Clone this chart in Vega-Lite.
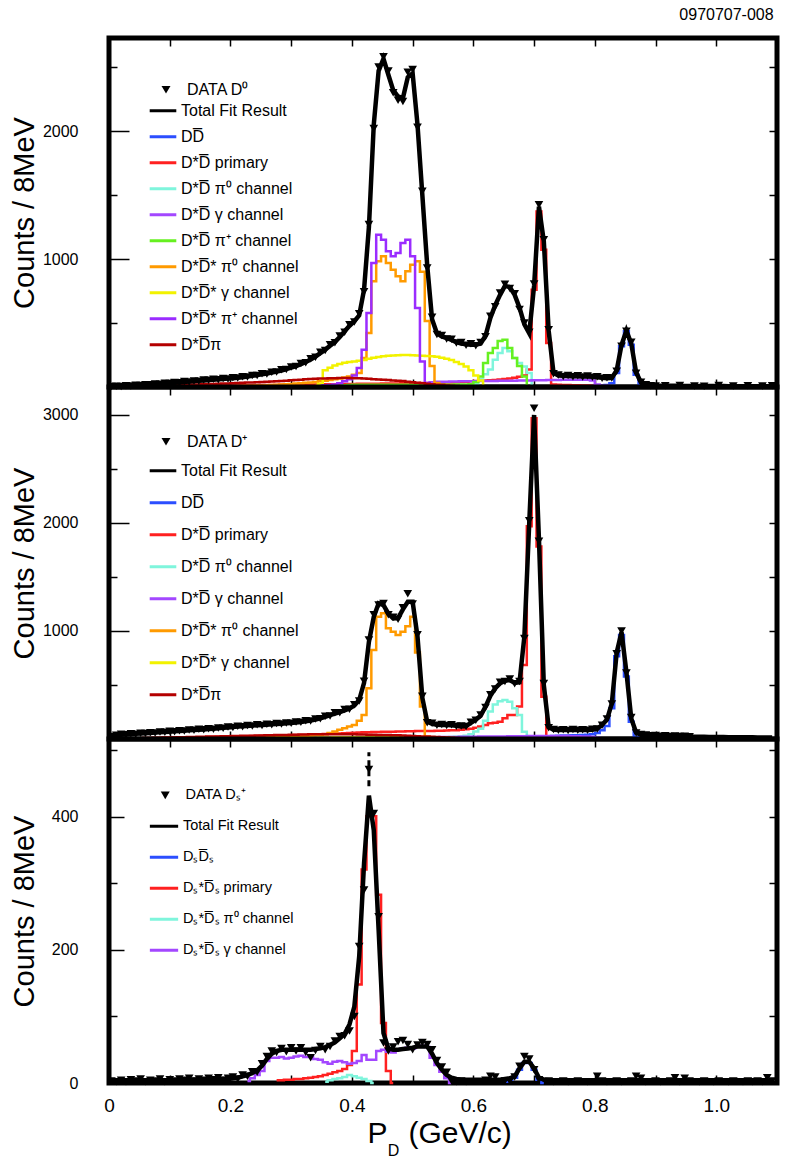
{
  "$schema": "https://vega.github.io/schema/vega-lite/v6.json",
  "padding": {"left": 7, "top": 6, "right": 12, "bottom": 0},
  "title": {"text": "0970707-008", "anchor": "end", "fontSize": 16, "fontWeight": "normal", "font": "Liberation Sans", "color": "black", "offset": 12, "dx": -10},
  "spacing": 0,
  "bounds": "flush",
  "datasets": {
    "d1": [
      {"p":0.004,"fit":2,"dat":3,"pi":1},
      {"p":0.012,"fit":4,"dat":5,"pi":2},
      {"p":0.02,"fit":6,"dat":4,"pi":3},
      {"p":0.028,"fit":8,"dat":9,"pi":4},
      {"p":0.036,"fit":10,"dat":8,"pi":5,"pr":1},
      {"p":0.044,"fit":12,"dat":13,"pi":6,"pr":2},
      {"p":0.052,"fit":14,"dat":12,"pi":7,"pr":2},
      {"p":0.06,"fit":16,"dat":18,"pi":8,"pr":3},
      {"p":0.068,"fit":19,"dat":17,"pi":9,"pr":3},
      {"p":0.076,"fit":21,"dat":23,"pi":10,"pr":4},
      {"p":0.084,"fit":24,"dat":22,"pi":11,"pr":4},
      {"p":0.092,"fit":27,"dat":29,"pi":13,"pr":5},
      {"p":0.1,"fit":30,"dat":28,"pi":14,"pr":5},
      {"p":0.108,"fit":33,"dat":35,"pi":15,"pr":6},
      {"p":0.116,"fit":36,"dat":34,"pi":16,"pr":6},
      {"p":0.124,"fit":39,"dat":42,"pi":17,"pr":7},
      {"p":0.132,"fit":42,"dat":40,"pi":18,"pr":7},
      {"p":0.14,"fit":45,"dat":47,"pi":19,"pr":8},
      {"p":0.148,"fit":48,"dat":45,"pi":20,"pr":8},
      {"p":0.156,"fit":51,"dat":54,"pi":21,"pr":9},
      {"p":0.164,"fit":54,"dat":52,"pi":23,"pr":9,"s0":1},
      {"p":0.172,"fit":57,"dat":60,"pi":24,"pr":10,"s0":2},
      {"p":0.18,"fit":60,"dat":57,"pi":25,"pr":10,"s0":3},
      {"p":0.188,"fit":63,"dat":66,"pi":27,"pr":11,"s0":4},
      {"p":0.196,"fit":66,"dat":63,"pi":28,"pr":11,"s0":5},
      {"p":0.204,"fit":69,"dat":72,"pi":30,"pr":12,"s0":6},
      {"p":0.212,"fit":72,"dat":70,"pi":32,"pr":12,"s0":7},
      {"p":0.22,"fit":77,"dat":80,"pi":33,"pr":13,"s0":8},
      {"p":0.228,"fit":82,"dat":79,"pi":35,"pr":13,"s0":9},
      {"p":0.236,"fit":87,"dat":90,"pi":36,"pr":14,"s0":10},
      {"p":0.244,"fit":93,"dat":89,"pi":38,"pr":14,"s0":11},
      {"p":0.252,"fit":99,"dat":104,"pi":40,"pr":15,"s0":12},
      {"p":0.26,"fit":105,"dat":101,"pi":41,"pr":15,"s0":14},
      {"p":0.268,"fit":112,"dat":116,"pi":43,"pr":16,"s0":16},
      {"p":0.276,"fit":120,"dat":117,"pi":45,"pr":16,"s0":18},
      {"p":0.284,"fit":129,"dat":134,"pi":46,"pr":17,"s0":20},
      {"p":0.292,"fit":140,"dat":137,"pi":49,"pr":17,"s0":22},
      {"p":0.3,"fit":152,"dat":156,"pi":52,"pr":18,"s0":24},
      {"p":0.308,"fit":164,"dat":160,"pi":55,"pr":18,"s0":27},
      {"p":0.316,"fit":178,"dat":184,"pi":57,"pr":19,"s0":30},
      {"p":0.324,"fit":195,"dat":190,"pi":60,"pr":19,"s0":33},
      {"p":0.332,"fit":215,"dat":221,"pi":62,"pr":20,"s0":36},
      {"p":0.34,"fit":238,"dat":232,"pi":65,"pr":20,"s0":40,"sg":10},
      {"p":0.348,"fit":265,"dat":272,"pi":66,"pr":21,"s0":44,"sg":25,"sp":10},
      {"p":0.356,"fit":292,"dat":286,"pi":67,"pr":21,"s0":48,"sg":130,"sp":14},
      {"p":0.364,"fit":322,"dat":330,"pi":68,"pr":22,"s0":54,"sg":150,"sp":16},
      {"p":0.372,"fit":352,"dat":345,"pi":69,"pr":22,"s0":60,"sg":168,"sp":20},
      {"p":0.38,"fit":390,"dat":398,"pi":70,"pr":23,"s0":66,"sg":180,"sp":30,"pp":10},
      {"p":0.388,"fit":435,"dat":428,"pi":70,"pr":23,"s0":75,"sg":190,"sp":45,"pp":14},
      {"p":0.396,"fit":478,"dat":486,"pi":70,"pr":24,"s0":83,"sg":195,"sp":60,"pp":16},
      {"p":0.404,"fit":515,"dat":508,"pi":69,"pr":24,"s0":95,"sg":200,"sp":90,"pp":17},
      {"p":0.412,"fit":560,"dat":572,"pi":68,"pr":25,"s0":109,"sg":205,"sp":148,"pp":18},
      {"p":0.42,"fit":760,"dat":745,"pi":66,"pr":25,"s0":227,"sg":210,"sp":291,"pp":18},
      {"p":0.428,"fit":1250,"dat":1270,"pi":64,"pr":25,"s0":422,"sg":220,"sp":578,"pp":18},
      {"p":0.436,"fit":2050,"dat":2020,"pi":61,"pr":26,"s0":826,"sg":228,"sp":969,"pp":18},
      {"p":0.444,"fit":2470,"dat":2500,"pi":58,"pr":26,"s0":982,"sg":235,"sp":1190,"pp":18},
      {"p":0.452,"fit":2565,"dat":2580,"pi":56,"pr":27,"s0":1021,"sg":240,"sp":1151,"pp":18},
      {"p":0.46,"fit":2440,"dat":2470,"pi":54,"pr":27,"s0":969,"sg":244,"sp":1060,"pp":18},
      {"p":0.468,"fit":2320,"dat":2300,"pi":51,"pr":28,"s0":917,"sg":246,"sp":1021,"pp":18},
      {"p":0.476,"fit":2270,"dat":2240,"pi":48,"pr":28,"s0":865,"sg":248,"sp":1047,"pp":18},
      {"p":0.484,"fit":2258,"dat":2230,"pi":46,"pr":29,"s0":826,"sg":250,"sp":1125,"pp":18},
      {"p":0.492,"fit":2420,"dat":2460,"pi":42,"pr":29,"s0":904,"sg":250,"sp":1151,"pp":18},
      {"p":0.5,"fit":2450,"dat":2480,"pi":38,"pr":30,"s0":956,"sg":248,"sp":1021,"pp":18},
      {"p":0.508,"fit":2050,"dat":2030,"pi":34,"pr":30,"s0":982,"sg":246,"sp":617,"pp":18},
      {"p":0.516,"fit":1500,"dat":1530,"pi":30,"pr":31,"s0":900,"sg":245,"sp":200,"pp":18},
      {"p":0.524,"fit":950,"dat":930,"pi":26,"pr":31,"s0":516,"sg":242,"sp":31,"pp":18,"g":30},
      {"p":0.532,"fit":530,"dat":545,"pi":22,"pr":32,"s0":164,"sg":240,"sp":8,"pp":18,"g":38},
      {"p":0.54,"fit":420,"dat":410,"pi":18,"pr":33,"s0":31,"sg":236,"sp":0,"pp":18,"g":42},
      {"p":0.548,"fit":395,"dat":402,"pi":15,"pr":34,"s0":0,"sg":228,"pp":18,"g":42},
      {"p":0.556,"fit":383,"dat":376,"pi":12,"pr":35,"sg":220,"pp":18,"g":42},
      {"p":0.564,"fit":368,"dat":374,"pi":10,"pr":36,"sg":210,"pp":18,"g":43},
      {"p":0.572,"fit":350,"dat":344,"pi":8,"pr":38,"sg":195,"pp":19,"g":43},
      {"p":0.58,"fit":340,"dat":347,"pi":6,"pr":40,"sg":180,"pp":19,"g":44,"p0":10},
      {"p":0.588,"fit":333,"dat":326,"pi":4,"pr":42,"sg":160,"pp":20,"g":44,"p0":12},
      {"p":0.596,"fit":330,"dat":337,"pi":3,"pr":44,"sg":130,"pp":22,"g":45,"p0":15},
      {"p":0.604,"fit":330,"dat":322,"pi":2,"pr":46,"sg":90,"pp":40,"g":45,"p0":30},
      {"p":0.612,"fit":340,"dat":348,"pi":1,"pr":48,"sg":50,"pp":83,"g":46,"p0":60},
      {"p":0.62,"fit":400,"dat":392,"pi":0,"pr":50,"sg":0,"pp":187,"g":46,"p0":100},
      {"p":0.628,"fit":540,"dat":552,"pr":52,"pp":265,"g":47,"p0":136},
      {"p":0.636,"fit":640,"dat":628,"pr":55,"pp":305,"g":47,"p0":213},
      {"p":0.644,"fit":720,"dat":735,"pr":58,"pp":360,"g":48,"p0":265},
      {"p":0.652,"fit":790,"dat":802,"pr":62,"pp":370,"g":48,"p0":305},
      {"p":0.66,"fit":780,"dat":770,"pr":66,"pp":305,"g":49,"p0":280},
      {"p":0.668,"fit":720,"dat":728,"pr":72,"pp":227,"g":49,"p0":227},
      {"p":0.676,"fit":620,"dat":606,"pr":80,"pp":164,"g":50,"p0":187},
      {"p":0.684,"fit":490,"dat":500,"pr":90,"pp":83,"g":50,"p0":160},
      {"p":0.692,"fit":420,"dat":428,"pr":136,"pp":0,"g":51,"p0":110},
      {"p":0.7,"fit":790,"dat":805,"pr":760,"g":52,"p0":0},
      {"p":0.708,"fit":1410,"dat":1424,"pr":1372,"g":52},
      {"p":0.716,"fit":1140,"dat":1150,"pr":1073,"g":53},
      {"p":0.724,"fit":440,"dat":448,"pr":344,"g":54},
      {"p":0.732,"fit":110,"dat":104,"pr":20,"g":55,"dd":3},
      {"p":0.74,"fit":90,"dat":94,"pr":18,"g":55,"dd":4},
      {"p":0.748,"fit":87,"dat":83,"pr":16,"g":56,"dd":5},
      {"p":0.756,"fit":85,"dat":89,"pr":15,"g":56,"dd":5},
      {"p":0.764,"fit":84,"dat":80,"pr":14,"g":57,"dd":6},
      {"p":0.772,"fit":84,"dat":87,"pr":13,"g":57,"dd":6},
      {"p":0.78,"fit":83,"dat":79,"pr":12,"g":57,"dd":7},
      {"p":0.788,"fit":82,"dat":85,"pr":11,"g":56,"dd":8},
      {"p":0.796,"fit":80,"dat":77,"pr":10,"g":50,"dd":9},
      {"p":0.804,"fit":76,"dat":80,"pr":9,"g":20,"dd":10},
      {"p":0.812,"fit":72,"dat":68,"pr":8,"g":0,"dd":12},
      {"p":0.82,"fit":68,"dat":72,"pr":7,"dd":16},
      {"p":0.828,"fit":72,"dat":70,"pr":0,"dd":30},
      {"p":0.836,"fit":130,"dat":124,"dd":109},
      {"p":0.844,"fit":330,"dat":318,"dd":318},
      {"p":0.852,"fit":440,"dat":436,"dd":435},
      {"p":0.86,"fit":340,"dat":350,"dd":331},
      {"p":0.868,"fit":115,"dat":108,"dd":96},
      {"p":0.876,"fit":35,"dat":38,"dd":18},
      {"p":0.884,"fit":20,"dat":18,"dd":4},
      {"p":0.892,"fit":14,"dat":10,"dd":0},
      {"p":0.9,"fit":11,"dat":8},
      {"p":0.908,"fit":10},
      {"p":0.916,"fit":10,"dat":10},
      {"p":0.924,"fit":9},
      {"p":0.932,"fit":9},
      {"p":0.94,"fit":9,"dat":12},
      {"p":0.948,"fit":8},
      {"p":0.956,"fit":8},
      {"p":0.964,"fit":8,"dat":8},
      {"p":0.972,"fit":8},
      {"p":0.98,"fit":7,"dat":6},
      {"p":0.988,"fit":7},
      {"p":0.996,"fit":7},
      {"p":1.004,"fit":7,"dat":12},
      {"p":1.012,"fit":7},
      {"p":1.02,"fit":6},
      {"p":1.028,"fit":6,"dat":8},
      {"p":1.036,"fit":6},
      {"p":1.044,"fit":6},
      {"p":1.052,"fit":6,"dat":10},
      {"p":1.06,"fit":6},
      {"p":1.068,"fit":5},
      {"p":1.076,"fit":5,"dat":7},
      {"p":1.084,"fit":5},
      {"p":1.092,"fit":5,"dat":9}
    ],
    "d2": [
      {"p":0.004,"fit":20,"dat":22,"pi":2,"pr":2},
      {"p":0.012,"fit":37,"dat":35,"pi":3,"pr":3},
      {"p":0.02,"fit":40,"dat":43,"pi":4,"pr":4},
      {"p":0.028,"fit":42,"dat":40,"pi":5,"pr":5},
      {"p":0.036,"fit":45,"dat":48,"pi":6,"pr":5},
      {"p":0.044,"fit":48,"dat":45,"pi":7,"pr":6},
      {"p":0.052,"fit":50,"dat":53,"pi":8,"pr":6},
      {"p":0.06,"fit":53,"dat":50,"pi":9,"pr":7},
      {"p":0.068,"fit":56,"dat":59,"pi":10,"pr":7},
      {"p":0.076,"fit":59,"dat":56,"pi":11,"pr":8},
      {"p":0.084,"fit":62,"dat":65,"pi":12,"pr":8},
      {"p":0.092,"fit":65,"dat":62,"pi":13,"pr":9},
      {"p":0.1,"fit":68,"dat":71,"pi":14,"pr":10},
      {"p":0.108,"fit":71,"dat":68,"pi":15,"pr":11},
      {"p":0.116,"fit":74,"dat":77,"pi":16,"pr":12},
      {"p":0.124,"fit":77,"dat":74,"pi":17,"pr":13},
      {"p":0.132,"fit":80,"dat":84,"pi":18,"pr":14},
      {"p":0.14,"fit":83,"dat":80,"pi":19,"pr":15},
      {"p":0.148,"fit":86,"dat":90,"pi":20,"pr":16},
      {"p":0.156,"fit":89,"dat":85,"pi":21,"pr":17},
      {"p":0.164,"fit":92,"dat":96,"pi":22,"pr":18},
      {"p":0.172,"fit":95,"dat":91,"pi":23,"pr":19},
      {"p":0.18,"fit":99,"dat":103,"pi":24,"pr":20},
      {"p":0.188,"fit":103,"dat":99,"pi":25,"pr":21},
      {"p":0.196,"fit":107,"dat":111,"pi":26,"pr":22,"s0":5},
      {"p":0.204,"fit":111,"dat":107,"pi":27,"pr":23,"s0":6},
      {"p":0.212,"fit":115,"dat":119,"pi":28,"pr":24,"s0":7},
      {"p":0.22,"fit":118,"dat":114,"pi":29,"pr":25,"s0":8},
      {"p":0.228,"fit":121,"dat":125,"pi":30,"pr":26,"s0":9},
      {"p":0.236,"fit":124,"dat":120,"pi":31,"pr":27,"s0":10},
      {"p":0.244,"fit":127,"dat":131,"pi":32,"pr":28,"s0":11},
      {"p":0.252,"fit":130,"dat":126,"pi":33,"pr":29,"s0":12},
      {"p":0.26,"fit":133,"dat":137,"pi":34,"pr":30,"s0":14},
      {"p":0.268,"fit":136,"dat":132,"pi":35,"pr":31,"s0":16},
      {"p":0.276,"fit":139,"dat":143,"pi":36,"pr":32,"s0":18},
      {"p":0.284,"fit":142,"dat":138,"pi":37,"pr":33,"s0":20},
      {"p":0.292,"fit":145,"dat":149,"pi":38,"pr":34,"s0":22},
      {"p":0.3,"fit":149,"dat":145,"pi":39,"pr":35,"s0":24,"sg":5},
      {"p":0.308,"fit":153,"dat":157,"pi":40,"pr":36,"s0":26,"sg":6},
      {"p":0.316,"fit":158,"dat":154,"pi":41,"pr":37,"s0":28,"sg":7},
      {"p":0.324,"fit":164,"dat":169,"pi":42,"pr":38,"s0":30,"sg":8},
      {"p":0.332,"fit":171,"dat":166,"pi":43,"pr":40,"s0":33,"sg":9},
      {"p":0.34,"fit":180,"dat":186,"pi":44,"pr":42,"s0":36,"sg":10},
      {"p":0.348,"fit":192,"dat":187,"pi":45,"pr":44,"s0":40,"sg":11},
      {"p":0.356,"fit":205,"dat":211,"pi":45,"pr":46,"s0":45,"sg":12},
      {"p":0.364,"fit":220,"dat":214,"pi":45,"pr":48,"s0":55,"sg":12},
      {"p":0.372,"fit":235,"dat":242,"pi":45,"pr":50,"s0":70,"sg":13},
      {"p":0.38,"fit":250,"dat":244,"pi":45,"pr":52,"s0":85,"sg":13},
      {"p":0.388,"fit":265,"dat":272,"pi":44,"pr":54,"s0":100,"sg":14},
      {"p":0.396,"fit":282,"dat":276,"pi":44,"pr":56,"s0":115,"sg":14},
      {"p":0.404,"fit":310,"dat":318,"pi":43,"pr":58,"s0":130,"sg":14},
      {"p":0.412,"fit":361,"dat":352,"pi":42,"pr":60,"s0":170,"sg":15},
      {"p":0.42,"fit":520,"dat":535,"pi":41,"pr":62,"s0":222,"sg":15},
      {"p":0.428,"fit":900,"dat":917,"pi":40,"pr":63,"s0":470,"sg":15},
      {"p":0.436,"fit":1130,"dat":1150,"pi":39,"pr":64,"s0":824,"sg":15},
      {"p":0.444,"fit":1256,"dat":1240,"pi":38,"pr":65,"s0":1133,"sg":15},
      {"p":0.452,"fit":1240,"dat":1255,"pi":37,"pr":66,"s0":1164,"sg":15},
      {"p":0.46,"fit":1160,"dat":1150,"pi":36,"pr":67,"s0":1025,"sg":15},
      {"p":0.468,"fit":1117,"dat":1128,"pi":35,"pr":68,"s0":994,"sg":15},
      {"p":0.476,"fit":1120,"dat":1108,"pi":34,"pr":69,"s0":963,"sg":15},
      {"p":0.484,"fit":1200,"dat":1215,"pi":32,"pr":70,"s0":994,"sg":15,"g":5},
      {"p":0.492,"fit":1270,"dat":1345,"pi":30,"pr":71,"s0":1043,"sg":15,"g":8},
      {"p":0.5,"fit":1270,"dat":1250,"pi":28,"pr":72,"s0":1133,"sg":15,"g":10},
      {"p":0.508,"fit":950,"dat":965,"pi":26,"pr":73,"s0":800,"sg":14,"g":12},
      {"p":0.516,"fit":380,"dat":395,"pi":24,"pr":74,"s0":300,"sg":14,"g":14},
      {"p":0.524,"fit":160,"dat":150,"pi":22,"pr":74,"s0":20,"sg":14,"g":15},
      {"p":0.532,"fit":140,"dat":145,"pi":20,"pr":75,"s0":0,"sg":13,"g":16,"p0":10},
      {"p":0.54,"fit":132,"dat":128,"pi":18,"pr":76,"sg":13,"g":17,"p0":12},
      {"p":0.548,"fit":130,"dat":135,"pi":16,"pr":77,"sg":12,"g":18,"p0":14},
      {"p":0.556,"fit":130,"dat":126,"pi":14,"pr":78,"sg":11,"g":18,"p0":16},
      {"p":0.564,"fit":128,"dat":133,"pi":12,"pr":80,"sg":10,"g":19,"p0":18},
      {"p":0.572,"fit":122,"dat":118,"pi":10,"pr":82,"sg":8,"g":19,"p0":20},
      {"p":0.58,"fit":116,"dat":121,"pi":8,"pr":86,"sg":6,"g":20,"p0":24},
      {"p":0.588,"fit":120,"dat":115,"pi":6,"pr":90,"sg":4,"g":20,"p0":30},
      {"p":0.596,"fit":150,"dat":156,"pi":4,"pr":96,"sg":2,"g":21,"p0":45},
      {"p":0.604,"fit":180,"dat":174,"pi":2,"pr":105,"sg":0,"g":21,"p0":70},
      {"p":0.612,"fit":215,"dat":222,"pi":0,"pr":115,"g":22,"p0":95},
      {"p":0.62,"fit":300,"dat":292,"pr":130,"g":22,"p0":170},
      {"p":0.628,"fit":400,"dat":410,"pr":145,"g":23,"p0":255},
      {"p":0.636,"fit":470,"dat":462,"pr":150,"g":23,"p0":320},
      {"p":0.644,"fit":515,"dat":525,"pr":160,"g":24,"p0":350},
      {"p":0.652,"fit":540,"dat":532,"pr":192,"g":24,"p0":361},
      {"p":0.66,"fit":546,"dat":555,"pr":222,"g":25,"p0":346},
      {"p":0.668,"fit":520,"dat":512,"pr":222,"g":25,"p0":284},
      {"p":0.676,"fit":525,"dat":533,"pr":300,"g":26,"p0":222},
      {"p":0.684,"fit":950,"dat":930,"pr":686,"g":26,"p0":68},
      {"p":0.692,"fit":2000,"dat":2020,"pr":1969,"g":27,"p0":0},
      {"p":0.7,"fit":3000,"dat":3062,"pr":2969,"g":27},
      {"p":0.708,"fit":1850,"dat":1830,"pr":1783,"g":28},
      {"p":0.716,"fit":500,"dat":515,"pr":392,"g":28},
      {"p":0.724,"fit":110,"dat":105,"pr":20,"g":28,"dd":25},
      {"p":0.732,"fit":85,"dat":88,"pr":15,"g":28,"dd":28},
      {"p":0.74,"fit":83,"dat":80,"pr":14,"g":28,"dd":30},
      {"p":0.748,"fit":83,"dat":86,"pr":13,"g":27,"dd":32},
      {"p":0.756,"fit":83,"dat":79,"pr":12,"g":27,"dd":33},
      {"p":0.764,"fit":83,"dat":87,"pr":11,"g":26,"dd":34},
      {"p":0.772,"fit":83,"dat":80,"pr":10,"g":25,"dd":35},
      {"p":0.78,"fit":83,"dat":86,"pr":9,"g":24,"dd":37},
      {"p":0.788,"fit":84,"dat":81,"pr":8,"g":22,"dd":40},
      {"p":0.796,"fit":86,"dat":90,"pr":7,"g":18,"dd":45},
      {"p":0.804,"fit":95,"dat":92,"pr":6,"g":12,"dd":55},
      {"p":0.812,"fit":130,"dat":127,"pr":5,"g":6,"dd":80},
      {"p":0.82,"fit":180,"dat":186,"pr":0,"g":0,"dd":120},
      {"p":0.828,"fit":330,"dat":325,"dd":284},
      {"p":0.836,"fit":800,"dat":790,"dd":765},
      {"p":0.844,"fit":990,"dat":1000,"dd":963},
      {"p":0.852,"fit":620,"dat":612,"dd":578},
      {"p":0.86,"fit":190,"dat":198,"dd":160},
      {"p":0.868,"fit":60,"dat":55,"dd":20},
      {"p":0.876,"fit":40,"dat":42,"dd":0},
      {"p":0.884,"fit":35,"dat":37},
      {"p":0.892,"fit":32,"dat":30},
      {"p":0.9,"fit":30,"dat":33},
      {"p":0.908,"fit":28,"dat":26},
      {"p":0.916,"fit":27,"dat":29},
      {"p":0.924,"fit":26,"dat":24},
      {"p":0.932,"fit":25,"dat":27},
      {"p":0.94,"fit":24,"dat":22},
      {"p":0.948,"fit":23,"dat":25},
      {"p":0.956,"fit":22,"dat":20},
      {"p":0.964,"fit":21},
      {"p":0.972,"fit":20},
      {"p":0.98,"fit":20},
      {"p":0.988,"fit":19},
      {"p":0.996,"fit":19},
      {"p":1.004,"fit":18},
      {"p":1.012,"fit":18},
      {"p":1.02,"fit":17},
      {"p":1.028,"fit":17},
      {"p":1.036,"fit":17},
      {"p":1.044,"fit":16},
      {"p":1.052,"fit":16},
      {"p":1.06,"fit":16},
      {"p":1.068,"fit":15},
      {"p":1.076,"fit":15},
      {"p":1.084,"fit":15},
      {"p":1.092,"fit":15}
    ],
    "d3": [
      {"p":0.004,"fit":2,"dat":3},
      {"p":0.012,"fit":2,"dat":2},
      {"p":0.02,"fit":2,"dat":4},
      {"p":0.028,"fit":3,"dat":2},
      {"p":0.036,"fit":3,"dat":5},
      {"p":0.044,"fit":3,"dat":3},
      {"p":0.052,"fit":3,"dat":6},
      {"p":0.06,"fit":3,"dat":2},
      {"p":0.068,"fit":3,"dat":4},
      {"p":0.076,"fit":3,"dat":3},
      {"p":0.084,"fit":3,"dat":6},
      {"p":0.092,"fit":4,"dat":2},
      {"p":0.1,"fit":4,"dat":5},
      {"p":0.108,"fit":4,"dat":3},
      {"p":0.116,"fit":4,"dat":6},
      {"p":0.124,"fit":4,"dat":4},
      {"p":0.132,"fit":4,"dat":7},
      {"p":0.14,"fit":5,"dat":3},
      {"p":0.148,"fit":5,"dat":6},
      {"p":0.156,"fit":5,"dat":4},
      {"p":0.164,"fit":5,"dat":7},
      {"p":0.172,"fit":5,"dat":5},
      {"p":0.18,"fit":6,"dat":8},
      {"p":0.188,"fit":6,"dat":4},
      {"p":0.196,"fit":6,"dat":7},
      {"p":0.204,"fit":7,"dat":9},
      {"p":0.212,"fit":8,"dat":6},
      {"p":0.22,"fit":10,"dat":12},
      {"p":0.228,"fit":12,"dat":10,"g":3},
      {"p":0.236,"fit":15,"dat":17,"g":7},
      {"p":0.244,"fit":19,"dat":16,"g":12},
      {"p":0.252,"fit":26,"dat":29,"g":18},
      {"p":0.26,"fit":36,"dat":40,"g":33},
      {"p":0.268,"fit":44,"dat":48,"g":38},
      {"p":0.276,"fit":48,"dat":46,"g":38,"pr":4},
      {"p":0.284,"fit":50,"dat":52,"g":39,"pr":4},
      {"p":0.292,"fit":50,"dat":47,"g":37,"pr":5},
      {"p":0.3,"fit":50,"dat":53,"g":38,"pr":5},
      {"p":0.308,"fit":50,"dat":48,"g":40,"pr":6},
      {"p":0.316,"fit":50,"dat":53,"g":41,"pr":6},
      {"p":0.324,"fit":50,"dat":46,"g":39,"pr":7},
      {"p":0.332,"fit":50,"dat":38,"g":40,"pr":8},
      {"p":0.34,"fit":51,"dat":49,"g":36,"pr":9},
      {"p":0.348,"fit":52,"dat":55,"g":35,"pr":10},
      {"p":0.356,"fit":54,"dat":50,"g":31,"pr":12,"p0":2},
      {"p":0.364,"fit":57,"dat":55,"g":29,"pr":14,"p0":4},
      {"p":0.372,"fit":61,"dat":63,"g":32,"pr":16,"p0":6},
      {"p":0.38,"fit":67,"dat":70,"g":33,"pr":18,"p0":7},
      {"p":0.388,"fit":74,"dat":71,"g":31,"pr":21,"p0":9},
      {"p":0.396,"fit":88,"dat":78,"g":29,"pr":27,"p0":12},
      {"p":0.404,"fit":115,"dat":100,"g":30,"pr":48,"p0":10},
      {"p":0.412,"fit":190,"dat":205,"g":33,"pr":148,"p0":8},
      {"p":0.42,"fit":330,"dat":290,"g":42,"pr":321,"p0":6},
      {"p":0.428,"fit":432,"dat":471,"g":35,"pr":401,"p0":3},
      {"p":0.436,"fit":380,"dat":405,"g":35,"pr":401,"p0":0},
      {"p":0.444,"fit":230,"dat":250,"g":48,"pr":283},
      {"p":0.452,"fit":75,"dat":60,"g":50,"pr":90},
      {"p":0.46,"fit":52,"dat":48,"g":47,"pr":18},
      {"p":0.468,"fit":50,"dat":54,"g":46,"pr":0},
      {"p":0.476,"fit":50,"dat":62,"g":50},
      {"p":0.484,"fit":51,"dat":64,"g":52},
      {"p":0.492,"fit":52,"dat":58,"g":53},
      {"p":0.5,"fit":53,"dat":50,"g":52},
      {"p":0.508,"fit":55,"dat":57,"g":55},
      {"p":0.516,"fit":55,"dat":61,"g":56},
      {"p":0.524,"fit":55,"dat":58,"g":54},
      {"p":0.532,"fit":44,"dat":50,"g":38},
      {"p":0.54,"fit":30,"dat":34,"g":27},
      {"p":0.548,"fit":20,"dat":24,"g":17},
      {"p":0.556,"fit":12,"dat":16,"g":7},
      {"p":0.564,"fit":8,"dat":3,"g":0},
      {"p":0.572,"fit":6,"dat":2},
      {"p":0.58,"fit":5,"dat":3},
      {"p":0.588,"fit":5,"dat":2},
      {"p":0.596,"fit":5},
      {"p":0.604,"fit":5},
      {"p":0.612,"fit":5},
      {"p":0.62,"fit":5,"dat":4},
      {"p":0.628,"fit":5,"dat":10},
      {"p":0.636,"fit":5,"dat":9},
      {"p":0.644,"fit":5},
      {"p":0.652,"fit":6,"dat":3,"dd":2},
      {"p":0.66,"fit":7,"dat":3,"dd":5},
      {"p":0.668,"fit":10,"dat":9,"dd":8},
      {"p":0.676,"fit":22,"dat":25,"dd":20},
      {"p":0.684,"fit":32,"dat":40,"dd":30},
      {"p":0.692,"fit":32,"dat":36,"dd":30},
      {"p":0.7,"fit":22,"dat":20,"dd":20},
      {"p":0.708,"fit":8,"dat":5,"dd":5},
      {"p":0.716,"fit":5,"dd":0},
      {"p":0.724,"fit":4,"dat":3},
      {"p":0.732,"fit":4,"dat":2},
      {"p":0.74,"fit":4},
      {"p":0.748,"fit":4,"dat":3},
      {"p":0.756,"fit":4,"dat":2},
      {"p":0.764,"fit":4},
      {"p":0.772,"fit":4,"dat":3},
      {"p":0.78,"fit":4},
      {"p":0.788,"fit":4,"dat":2},
      {"p":0.796,"fit":4},
      {"p":0.804,"fit":4,"dat":10},
      {"p":0.812,"fit":4,"dat":3},
      {"p":0.82,"fit":4,"dat":2},
      {"p":0.828,"fit":4},
      {"p":0.836,"fit":4,"dat":3},
      {"p":0.844,"fit":4,"dat":2},
      {"p":0.852,"fit":4},
      {"p":0.86,"fit":4,"dat":3},
      {"p":0.868,"fit":4,"dat":10},
      {"p":0.876,"fit":4,"dat":7},
      {"p":0.884,"fit":4,"dat":2},
      {"p":0.892,"fit":4},
      {"p":0.9,"fit":4,"dat":3},
      {"p":0.908,"fit":4,"dat":2},
      {"p":0.916,"fit":4},
      {"p":0.924,"fit":4,"dat":3},
      {"p":0.932,"fit":4,"dat":8},
      {"p":0.94,"fit":4,"dat":2},
      {"p":0.948,"fit":4,"dat":7},
      {"p":0.956,"fit":4,"dat":3},
      {"p":0.964,"fit":4},
      {"p":0.972,"fit":4,"dat":2},
      {"p":0.98,"fit":4,"dat":3},
      {"p":0.988,"fit":4},
      {"p":0.996,"fit":4,"dat":2},
      {"p":1.004,"fit":4,"dat":3},
      {"p":1.012,"fit":4},
      {"p":1.02,"fit":4,"dat":2},
      {"p":1.028,"fit":4,"dat":3},
      {"p":1.036,"fit":4},
      {"p":1.044,"fit":4,"dat":2},
      {"p":1.052,"fit":3,"dat":3},
      {"p":1.06,"fit":3,"dat":2},
      {"p":1.068,"fit":3,"dat":3},
      {"p":1.076,"fit":3,"dat":2},
      {"p":1.084,"fit":3,"dat":8},
      {"p":1.092,"fit":3,"dat":3}
    ]
  },
  "vconcat": [
    {
      "width": 668,
      "height": 349,
      "data": {"name": "d1"},
      "layer": [
        {
          "transform": [{"fold": ["dd", "pr", "p0", "g", "pp", "s0", "sg", "sp", "pi"], "as": ["s", "n"]}],
          "mark": {"type": "line", "interpolate": "step", "strokeWidth": 2.5},
          "encoding": {
            "x": {"field": "p", "type": "quantitative", "scale": {"domain": [0, 1.1], "nice": false, "zero": false},
              "axis": {"orient": "bottom", "values": [0, 0.1, 0.2, 0.3, 0.4, 0.5, 0.6, 0.7, 0.8, 0.9, 1.0], "tickSize": -8, "labels": false, "title": null}},
            "y": {"field": "n", "type": "quantitative", "scale": {"domain": [0, 2727], "nice": false},
              "axis": {"orient": "left", "values": [1000, 2000], "format": "d", "tickSize": -20, "labelPadding": 51, "labelFontSize": 16,
                "title": "Counts / 8MeV", "titleFontSize": 29, "titleX": -85, "titleBaseline": "middle"}},
            "color": {"field": "s", "type": "nominal",
              "scale": {"domain": ["fit", "dd", "pr", "p0", "g", "pp", "s0", "sg", "sp", "pi"],
                "range": ["#000000", "#2b4eff", "#ff2020", "#7ff5dc", "#a347ff", "#66f020", "#ff9a00", "#f2f200", "#9a2cff", "#b40000"]},
              "legend": {"orient": "none", "legendX": 39, "legendY": 60, "title": null, "padding": 0,
                "symbolType": "stroke", "symbolSize": 708, "symbolStrokeWidth": 3, "clipHeight": 25.5, "rowPadding": 0, "labelOffset": 3,
                "labelFont": "Liberation Sans", "labelFontSize": 16, "labelColor": "black", "labelLimit": 0,
                "labelExpr": "['Total Fit Result','DD\u0305','D*D\u0305 primary','D*D\u0305 \u03c0\u2070 channel','D*D\u0305 \u03b3 channel','D*D\u0305 \u03c0\u207a channel','D*D\u0305* \u03c0\u2070 channel','D*D\u0305* \u03b3 channel','D*D\u0305* \u03c0\u207a channel','D*D\u0305\u03c0'][indexof(['fit','dd','pr','p0','g','pp','s0','sg','sp','pi'], datum.value)]"}}
          }
        },
        {
          "mark": {"type": "line", "strokeWidth": 4.5},
          "encoding": {
            "x": {"field": "p", "type": "quantitative", "scale": {"domain": [0, 1.1], "nice": false, "zero": false},
              "axis": {"orient": "top", "values": [0.1, 0.2, 0.3, 0.4, 0.5, 0.6, 0.7, 0.8, 0.9, 1.0], "tickSize": -8, "labels": false, "title": null}},
            "y": {"field": "fit", "type": "quantitative", "scale": {"domain": [0, 2727], "nice": false},
              "axis": {"orient": "left", "values": [500, 1500, 2500], "tickSize": -8, "labels": false, "title": null}},
            "color": {"datum": "fit"}
          }
        },
        {
          "mark": {"type": "point", "filled": true, "color": "black", "size": 75, "opacity": 1},
          "encoding": {
            "x": {"field": "p", "type": "quantitative", "scale": {"domain": [0, 1.1], "nice": false, "zero": false}, "axis": null},
            "y": {"field": "dat", "type": "quantitative", "scale": {"domain": [0, 2727], "nice": false},
              "axis": {"orient": "right", "values": [500, 1000, 1500, 2000, 2500], "tickSize": -8, "labels": false, "title": null}},
            "shape": {"datum": "DATA D\u2070", "type": "nominal", "scale": {"range": ["triangle-down"]},
              "legend": {"orient": "none", "legendX": 49, "legendY": 39, "title": null, "padding": 0, "symbolSize": 80,
                "symbolFillColor": "black", "symbolStrokeWidth": 0, "clipHeight": 25.5, "labelOffset": 13,
                "labelFont": "Liberation Sans", "labelFontSize": 16, "labelColor": "black", "labelLimit": 0}}
          }
        }
      ],
      "resolve": {"axis": {"x": "independent", "y": "independent"}}
    },
    {
      "width": 668,
      "height": 352,
      "data": {"name": "d2"},
      "layer": [
        {
          "transform": [{"fold": ["dd", "pr", "p0", "g", "s0", "sg", "pi"], "as": ["s", "n"]}],
          "mark": {"type": "line", "interpolate": "step", "strokeWidth": 2.5},
          "encoding": {
            "x": {"field": "p", "type": "quantitative", "scale": {"domain": [0, 1.1], "nice": false, "zero": false},
              "axis": {"orient": "bottom", "values": [0, 0.1, 0.2, 0.3, 0.4, 0.5, 0.6, 0.7, 0.8, 0.9, 1.0], "tickSize": -8, "labels": false, "title": null}},
            "y": {"field": "n", "type": "quantitative", "scale": {"domain": [0, 3259], "nice": false},
              "axis": {"orient": "left", "values": [1000, 2000, 3000], "format": "d", "tickSize": -20, "labelPadding": 51, "labelFontSize": 16,
                "title": "Counts / 8MeV", "titleFontSize": 29, "titleX": -85, "titleBaseline": "middle"}},
            "color": {"field": "s", "type": "nominal",
              "scale": {"domain": ["fit", "dd", "pr", "p0", "g", "s0", "sg", "pi"],
                "range": ["#000000", "#2b4eff", "#ff2020", "#7ff5dc", "#a347ff", "#ff9a00", "#f2f200", "#b40000"]},
              "legend": {"orient": "none", "legendX": 39, "legendY": 68, "title": null, "padding": 0,
                "symbolType": "stroke", "symbolSize": 708, "symbolStrokeWidth": 3, "clipHeight": 31.5, "rowPadding": 0, "labelOffset": 3,
                "labelFont": "Liberation Sans", "labelFontSize": 16, "labelColor": "black", "labelLimit": 0,
                "labelExpr": "['Total Fit Result','DD\u0305','D*D\u0305 primary','D*D\u0305 \u03c0\u2070 channel','D*D\u0305 \u03b3 channel','D*D\u0305* \u03c0\u2070 channel','D*D\u0305* \u03b3 channel','D*D\u0305\u03c0'][indexof(['fit','dd','pr','p0','g','s0','sg','pi'], datum.value)]"}}
          }
        },
        {
          "mark": {"type": "line", "strokeWidth": 4.5},
          "encoding": {
            "x": {"field": "p", "type": "quantitative", "scale": {"domain": [0, 1.1], "nice": false, "zero": false},
              "axis": {"orient": "top", "values": [0.1, 0.2, 0.3, 0.4, 0.5, 0.6, 0.7, 0.8, 0.9, 1.0], "tickSize": -8, "labels": false, "title": null}},
            "y": {"field": "fit", "type": "quantitative", "scale": {"domain": [0, 3259], "nice": false},
              "axis": {"orient": "left", "values": [500, 1500, 2500], "tickSize": -8, "labels": false, "title": null}},
            "color": {"datum": "fit"}
          }
        },
        {
          "mark": {"type": "point", "filled": true, "color": "black", "size": 75, "opacity": 1},
          "encoding": {
            "x": {"field": "p", "type": "quantitative", "scale": {"domain": [0, 1.1], "nice": false, "zero": false}, "axis": null},
            "y": {"field": "dat", "type": "quantitative", "scale": {"domain": [0, 3259], "nice": false},
              "axis": {"orient": "right", "values": [500, 1000, 1500, 2000, 2500, 3000], "tickSize": -8, "labels": false, "title": null}},
            "shape": {"datum": "DATA D\u207a", "type": "nominal", "scale": {"range": ["triangle-down"]},
              "legend": {"orient": "none", "legendX": 49, "legendY": 39, "title": null, "padding": 0, "symbolSize": 80,
                "symbolFillColor": "black", "symbolStrokeWidth": 0, "clipHeight": 31.5, "labelOffset": 13,
                "labelFont": "Liberation Sans", "labelFontSize": 16, "labelColor": "black", "labelLimit": 0}}
          }
        }
      ],
      "resolve": {"axis": {"x": "independent", "y": "independent"}}
    },
    {
      "width": 668,
      "height": 344,
      "data": {"name": "d3"},
      "layer": [
        {
          "transform": [{"fold": ["dd", "pr", "p0", "g"], "as": ["s", "n"]}],
          "mark": {"type": "line", "interpolate": "step", "strokeWidth": 2.5},
          "encoding": {
            "x": {"field": "p", "type": "quantitative", "scale": {"domain": [0, 1.1], "nice": false, "zero": false},
              "axis": {"orient": "bottom", "values": [0, 0.1, 0.2, 0.3, 0.4, 0.5, 0.6, 0.7, 0.8, 0.9, 1.0], "tickSize": -8,
                "labelExpr": "datum.value == 0 ? '0' : (round(datum.value * 10) % 2 == 0 ? format(datum.value, '.1f') : '')",
                "labelFlush": false, "labelOverlap": false, "labelFontSize": 19, "labelPadding": 21,
                "title": "(GeV/c)", "titleFontSize": 30, "titleAlign": "left", "titleX": 299, "titleY": 35, "titleBaseline": "top"}},
            "y": {"field": "n", "type": "quantitative", "scale": {"domain": [0, 517], "nice": false},
              "axis": {"orient": "left", "values": [0, 200, 400], "format": "d", "tickSize": -15, "labelPadding": 46, "labelFontSize": 16,
                "title": "Counts / 8MeV", "titleFontSize": 29, "titleX": -85, "titleBaseline": "middle"}},
            "color": {"field": "s", "type": "nominal",
              "scale": {"domain": ["fit", "dd", "pr", "p0", "g"],
                "range": ["#000000", "#2b4eff", "#ff2020", "#7ff5dc", "#a347ff"]},
              "legend": {"orient": "none", "legendX": 39, "legendY": 72, "title": null, "padding": 0,
                "symbolType": "stroke", "symbolSize": 800, "symbolStrokeWidth": 3, "clipHeight": 30.6, "rowPadding": 0, "labelOffset": 3,
                "labelFont": "Liberation Sans", "labelFontSize": 14.5, "labelColor": "black", "labelLimit": 0,
                "labelExpr": "['Total Fit Result','D\u209bD\u0305\u209b','D\u209b*D\u0305\u209b primary','D\u209b*D\u0305\u209b \u03c0\u2070 channel','D\u209b*D\u0305\u209b \u03b3 channel'][indexof(['fit','dd','pr','p0','g'], datum.value)]"}}
          }
        },
        {
          "mark": {"type": "line", "strokeWidth": 4.5},
          "encoding": {
            "x": {"field": "p", "type": "quantitative", "scale": {"domain": [0, 1.1], "nice": false, "zero": false},
              "axis": {"orient": "top", "values": [0.1, 0.2, 0.3, 0.4, 0.5, 0.6, 0.7, 0.8, 0.9, 1.0], "tickSize": -8, "labels": false, "title": null}},
            "y": {"field": "fit", "type": "quantitative", "scale": {"domain": [0, 517], "nice": false},
              "axis": {"orient": "left", "values": [100, 300, 500], "tickSize": -8, "labels": false, "title": null}},
            "color": {"datum": "fit"}
          }
        },
        {
          "mark": {"type": "point", "filled": true, "color": "black", "size": 75, "opacity": 1},
          "encoding": {
            "x": {"field": "p", "type": "quantitative", "scale": {"domain": [0, 1.1], "nice": false, "zero": false},
              "axis": {"orient": "bottom", "ticks": false, "labels": false, "title": "D", "titleFontSize": 16, "titleX": 284, "titleY": 59, "titleAlign": "center", "titleBaseline": "top"}},
            "y": {"field": "dat", "type": "quantitative", "scale": {"domain": [0, 517], "nice": false},
              "axis": {"orient": "right", "values": [100, 200, 300, 400, 500], "tickSize": -8, "labels": false, "title": null}},
            "shape": {"datum": "DATA D\u209b\u207a", "type": "nominal", "scale": {"range": ["triangle-down"]},
              "legend": {"orient": "none", "legendX": 49, "legendY": 41, "title": null, "padding": 0, "symbolSize": 80,
                "symbolFillColor": "black", "symbolStrokeWidth": 0, "clipHeight": 30.6, "labelOffset": 13,
                "labelFont": "Liberation Sans", "labelFontSize": 14.5, "labelColor": "black", "labelLimit": 0}}
          }
        },
        {
          "data": {"values": [{"p": 0.428, "lo": 446, "hi": 497}]},
          "mark": {"type": "rule", "color": "black", "strokeWidth": 3, "strokeDash": [6, 4]},
          "encoding": {
            "x": {"field": "p", "type": "quantitative", "scale": {"domain": [0, 1.1], "nice": false, "zero": false},
              "axis": {"orient": "bottom", "ticks": false, "labels": false, "title": "P", "titleFontSize": 30, "titleX": 258, "titleY": 35, "titleAlign": "left", "titleBaseline": "top"}},
            "y": {"field": "lo", "type": "quantitative", "scale": {"domain": [0, 517], "nice": false}, "axis": null},
            "y2": {"field": "hi"}
          }
        }
      ],
      "resolve": {"axis": {"x": "independent", "y": "independent"}}
    }
  ],
  "resolve": {"scale": {"color": "independent", "shape": "independent"}, "legend": {"color": "independent", "shape": "independent"}},
  "config": {
    "font": "Liberation Sans",
    "view": {"stroke": "black", "strokeWidth": 5},
    "axis": {"grid": false, "domain": false, "tickColor": "black", "tickWidth": 1.5, "labelColor": "black", "titleColor": "black",
      "labelFont": "Liberation Sans", "titleFont": "Liberation Sans", "titleFontWeight": "normal"}
  }
}
